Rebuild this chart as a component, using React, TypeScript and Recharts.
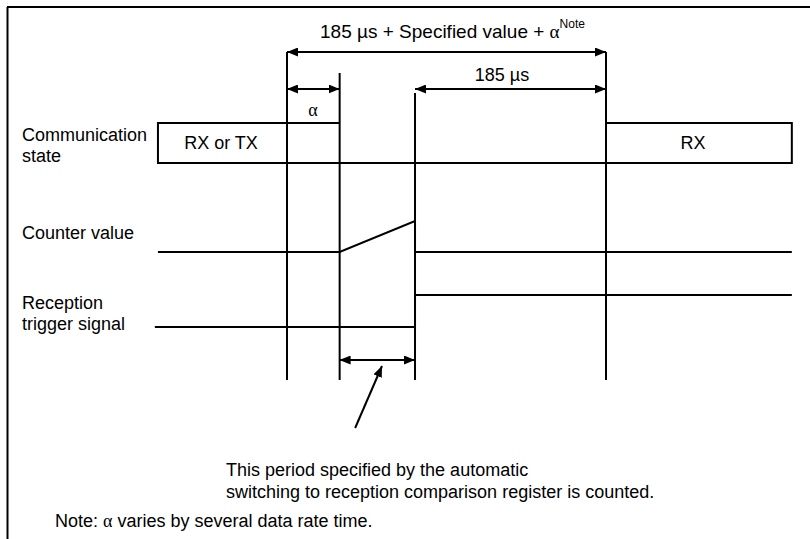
import { ComposedChart, Line, XAxis, YAxis } from "recharts";

const W = 810;
const H = 539;

// Time in µs, trigger edge at 0.
const COMM_T = [-73, -249, -249, 365, 365, 185];
const COMM_V = [1, 1, 0, 0, 1, 1];
const COUNTER_T = [-249, -73, 0, 0, 365];
const COUNTER_V = [0, 0, 1, 0, 0];
const TRIGGER_T = [-252, 0, 0, 365];
const TRIGGER_V = [0, 0, 1, 1];

// Vertical guide lines: alpha start, count start, trigger, 185 µs later.
const GUIDE_T = [-124, -73, 0, 185];
// Dimension arrows [from, to].
const SPAN_TOTAL = [-124, 185];
const SPAN_ALPHA = [-124, -73];
const SPAN_GUARD = [0, 185];
const SPAN_COUNT = [-73, 0];
// Pointer from the note text up to the count span.
const POINTER_T = [-58, -32];

// layout (px on the reversed y scale)
const LANE = {
  comm: { base: 163, amp: 40 },
  counter: { base: 252, amp: 31 },
  trigger: { base: 327, amp: 32 },
};
const GUIDE_TOP = [52, 73, 93, 52];
const GUIDE_BOTTOM = 380;
const ROW = { total: 52, alpha: 89, guard: 89, count: 360 };
const POINTER_Y = [428, 366];

const FONT = "'Liberation Sans', Arial, sans-serif";
const GREEK = "'Liberation Serif', 'Times New Roman', serif";

const lane = (ts: number[], vs: number[], l: { base: number; amp: number }) =>
  ts.map((t, i) => ({ t, y: l.base - vs[i] * l.amp }));
const span = (s: number[], y: number) => s.map((t) => ({ t, y }));

const LINE = {
  type: "linear" as const,
  dataKey: "y",
  stroke: "#000",
  strokeWidth: 2,
  dot: false,
  activeDot: false,
  isAnimationActive: false,
  legendType: "none" as const,
};

export default function App() {
  const signals = [
    lane(COMM_T, COMM_V, LANE.comm),
    lane(COUNTER_T, COUNTER_V, LANE.counter),
    lane(TRIGGER_T, TRIGGER_V, LANE.trigger),
  ];
  const guides = GUIDE_T.map((t, i) => [
    { t, y: GUIDE_TOP[i] },
    { t, y: GUIDE_BOTTOM },
  ]);
  const spans = [
    span(SPAN_TOTAL, ROW.total),
    span(SPAN_ALPHA, ROW.alpha),
    span(SPAN_GUARD, ROW.guard),
    span(SPAN_COUNT, ROW.count),
  ];
  const pointer = POINTER_T.map((t, i) => ({ t, y: POINTER_Y[i] }));

  return (
    <div style={{ position: "absolute", left: 0, top: 0, width: W, height: H, background: "#fff" }}>
      <ComposedChart width={W} height={H} margin={{ top: 0, right: 0, bottom: 0, left: 0 }}>
        <defs>
          <marker
            id="ah"
            viewBox="0 0 11 9"
            refX={11}
            refY={4.5}
            markerWidth={11}
            markerHeight={9}
            markerUnits="userSpaceOnUse"
            orient="auto-start-reverse"
          >
            <path d="M0,0 L11,4.5 L0,9 z" fill="#000" />
          </marker>
        </defs>
        <XAxis type="number" dataKey="t" domain={[-402, 382.6]} allowDataOverflow hide />
        <YAxis type="number" domain={[0, H]} reversed allowDataOverflow hide />
        {signals.map((d, i) => (
          <Line key={`s${i}`} {...LINE} data={d} />
        ))}
        {guides.map((d, i) => (
          <Line key={`g${i}`} {...LINE} data={d} />
        ))}
        {spans.map((d, i) => (
          <Line key={`a${i}`} {...LINE} data={d} markerStart="url(#ah)" markerEnd="url(#ah)" />
        ))}
        <Line {...LINE} data={pointer} markerEnd="url(#ah)" />
      </ComposedChart>

      <svg
        width={W}
        height={H}
        style={{ position: "absolute", left: 0, top: 0, pointerEvents: "none" }}
        fontFamily={FONT}
        fontSize={18}
        fill="#000"
      >
        <line x1={7} y1={7} x2={W} y2={7} stroke="#000" strokeWidth={2} />
        <line x1={7.5} y1={7} x2={7.5} y2={H} stroke="#000" strokeWidth={2} />

        <text x={320} y={38} fontSize={19}>
          185 µs + Specified value + <tspan fontFamily={GREEK}>α</tspan>
          <tspan fontSize={12} dy={-10}>Note</tspan>
        </text>
        <text x={502} y={81} textAnchor="middle">185 µs</text>
        <text x={313} y={116} textAnchor="middle" fontFamily={GREEK}>α</text>

        <text x={22} y={141}>Communication</text>
        <text x={22} y={162}>state</text>
        <text x={221} y={149} textAnchor="middle">RX or TX</text>
        <text x={693} y={149} textAnchor="middle">RX</text>
        <text x={22} y={239}>Counter value</text>
        <text x={22} y={309}>Reception</text>
        <text x={22} y={330}>trigger signal</text>

        <text x={226} y={476}>This period specified by the automatic</text>
        <text x={226} y={498}>switching to reception comparison register is counted.</text>
        <text x={55} y={527}>
          Note: <tspan fontFamily={GREEK}>α</tspan> varies by several data rate time.
        </text>
      </svg>
    </div>
  );
}
